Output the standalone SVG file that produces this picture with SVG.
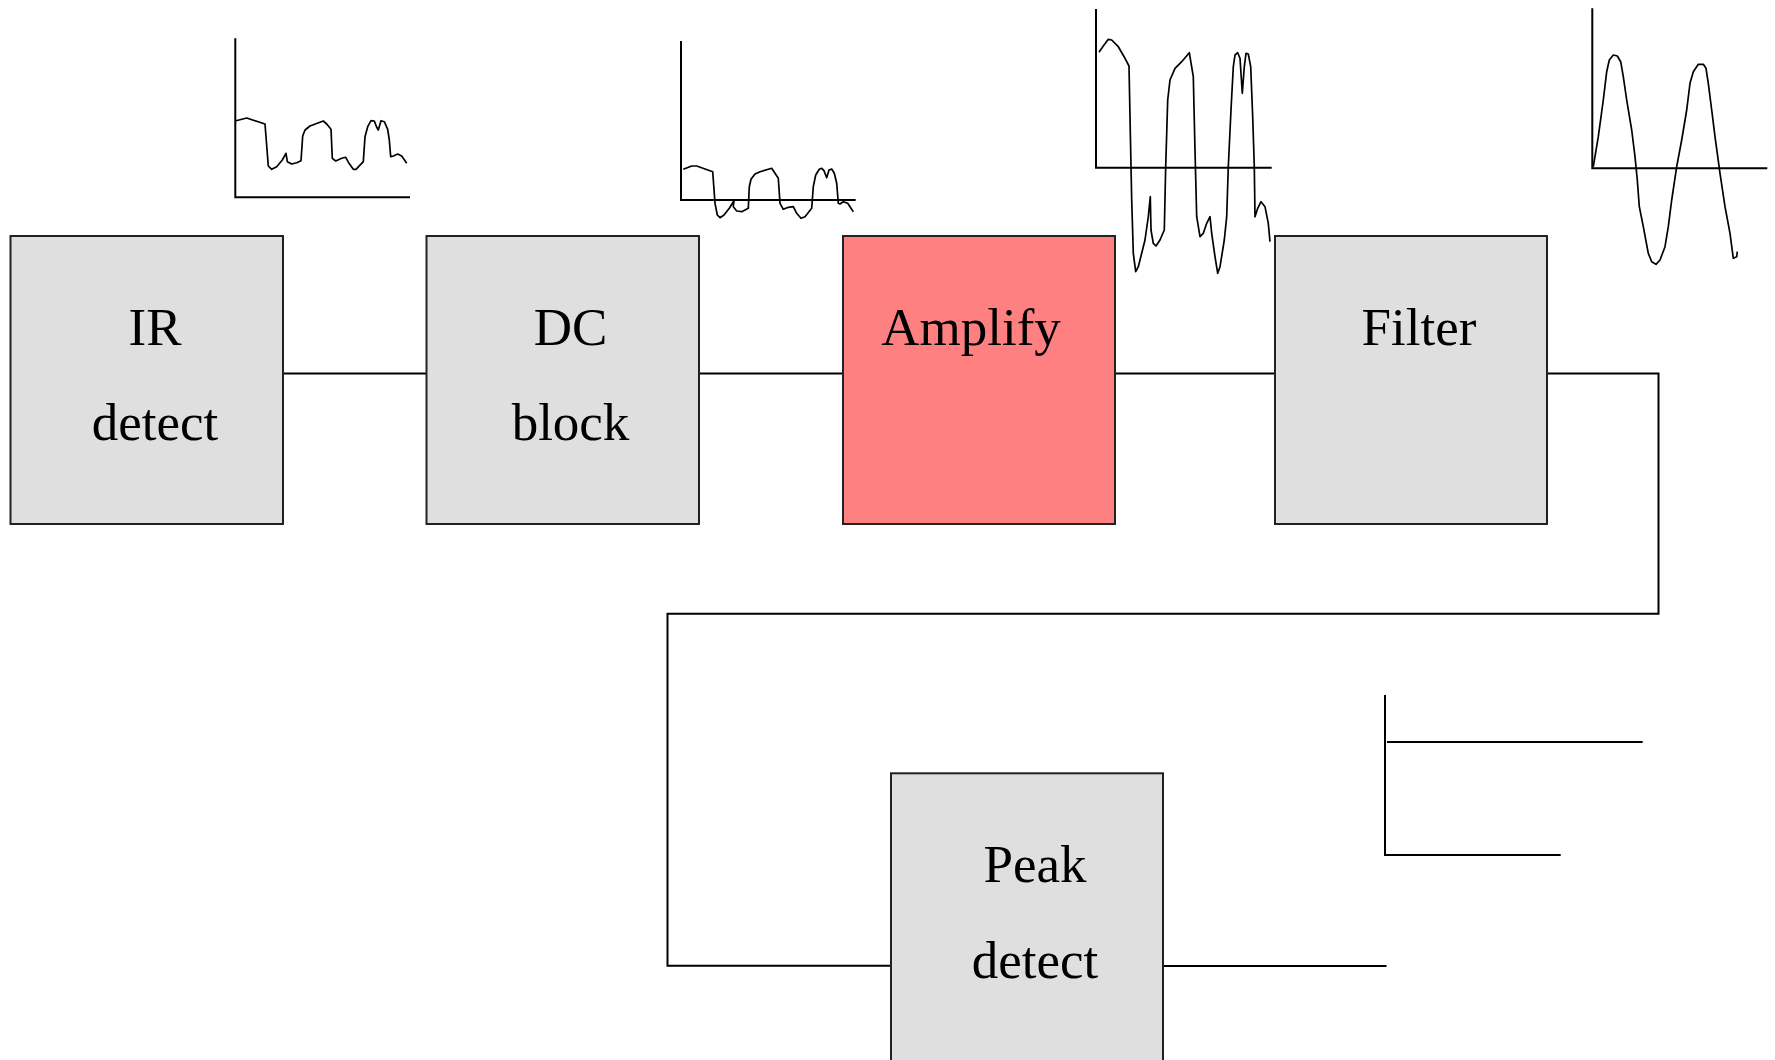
<svg xmlns="http://www.w3.org/2000/svg" width="1775" height="1060" viewBox="0 0 1775 1060">
<style>
.box{fill:#dfdfdf;stroke:#222;stroke-width:2}
.hot{fill:#ff8080;stroke:#222;stroke-width:2}
.lbl{font-family:"Liberation Serif","Times New Roman",serif;font-size:53px;fill:#000;text-anchor:middle}
.wire{fill:none;stroke:#000;stroke-width:2}
.axis{fill:none;stroke:#000;stroke-width:2}
.wave{fill:none;stroke:#000;stroke-width:1.7;stroke-linejoin:round}
</style>
<rect width="1775" height="1060" fill="#fff"/>
<g id="connectors">
<path class="wire" d="M283,373.5 H426.5"/>
<path class="wire" d="M699,373.5 H843"/>
<path class="wire" d="M1115,373.5 H1275"/>
<path class="wire" d="M1547,373.5 H1658.5 V613.7 H667.5 V965.7 H891"/>
<path class="wire" d="M1163,966 H1386.5"/>
</g>
<g id="ir-detect">
<rect class="box" x="10.5" y="236" width="272.5" height="288"/>
<text class="lbl" x="155" y="345">IR</text>
<text class="lbl" x="155" y="440">detect</text>
</g>
<g id="dc-block">
<rect class="box" x="426.5" y="236" width="272.5" height="288"/>
<text class="lbl" x="570.5" y="345">DC</text>
<text class="lbl" x="570.5" y="440">block</text>
</g>
<g id="amplify">
<rect class="hot" x="843" y="236" width="272" height="288"/>
<text class="lbl" x="971" y="345">Amplify</text>
</g>
<g id="filter">
<rect class="box" x="1275" y="236" width="272" height="288"/>
<text class="lbl" x="1419" y="345">Filter</text>
</g>
<g id="peak-detect">
<rect class="box" x="891" y="773.3" width="272" height="300"/>
<text class="lbl" x="1035" y="882">Peak</text>
<text class="lbl" x="1035" y="978">detect</text>
</g>
<g id="plot-ir">
<path class="axis" d="M235.3,38.3 V197.3 H410"/>
<path class="wave" d="M236,120.7 L246.7,118 L265,124 L268.3,166 L271.7,169.3 L276.7,166.7 L282.3,160 L286,153.3 L287.3,161.7 L291.7,164 L296.7,162.7 L301,160.7 L302.7,136 L305,130 L310,126 L323.3,121 L326.7,124 L331,129.3 L332.3,158.3 L335.7,161 L341.7,158.3 L345.7,157.3 L349,163.3 L353.3,169.3 L356,169.3 L363.3,161.7 L365,136.7 L367.7,126.7 L371,120.7 L374.3,121 L376.7,127.3 L378.3,130 L381,120.7 L384.3,121.7 L387.7,129.3 L389.3,140 L390.7,156.7 L393.3,156 L397.7,154 L401.7,156 L406.7,163.3"/>
</g>
<g id="plot-dc">
<path class="axis" d="M681,41 V200 H855.7"/>
<path class="wave" d="M683.3,169.3 L691.7,166 L696.7,166 L712.7,171.7 L715,203.3 L717.3,215 L720,217.7 L724,215 L729.3,208.3 L732.7,202.7 L734,200.7 L733.3,206.7 L736.7,211 L741.7,211.7 L748.3,208.3 L749.3,186.7 L751,179.3 L755,174 L760,171.7 L771.7,168.3 L775,173.3 L778.3,178.3 L780,203.3 L783.3,209.3 L788.3,207.3 L793.3,206.7 L796.7,213.3 L801,218.3 L805,216.7 L811.7,208.3 L813.3,186.7 L815.7,175 L819.3,169.3 L821.7,168.3 L824,170.7 L826.7,177.7 L829,170 L831.7,169 L834.3,173.3 L836.7,183.3 L838.3,203.3 L840,204 L843.3,201.7 L847.7,203.3 L850,206.7 L853.3,211.7"/>
</g>
<g id="plot-amp">
<path class="axis" d="M1096,9 V167.7 H1271.7"/>
<path class="wave" d="M1099,52.3 L1103.3,46 L1108.3,39.3 L1111.7,40 L1118.3,46.7 L1125,58.3 L1129,66 L1130,116.7 L1131.7,200 L1133.3,253.3 L1135.7,271.7 L1138.3,266.7 L1141.7,253.3 L1145,240 L1148.3,216.7 L1150.3,196.7 L1151,230 L1153.3,243.3 L1156,246 L1160,240 L1164.3,230 L1165.7,166.7 L1167.7,100 L1170,80 L1175,68.3 L1181.7,61.7 L1189.3,52.7 L1193.3,76.7 L1195,150 L1196.7,216.7 L1200,236.7 L1203.3,233.3 L1206.7,223.3 L1210,216.7 L1211.7,233.3 L1215,256.7 L1217.7,273.3 L1220,266.7 L1224.3,240 L1226.7,216.7 L1228.3,166.7 L1231,110 L1233.3,66.7 L1235,55 L1237.7,52.7 L1240,58.3 L1242.3,93.3 L1244.3,66.7 L1246,53.3 L1248.3,54 L1250.7,66.7 L1252.7,116.7 L1254.3,166.7 L1255,216.7 L1257.7,208.3 L1261,201.7 L1265,206.7 L1268.3,223.3 L1270,241.7"/>
</g>
<g id="plot-filter">
<path class="axis" d="M1592.3,8.3 V168.3 H1767.3"/>
<path class="wave" d="M1593.3,166.7 L1598.3,136.7 L1603.3,100 L1606.7,71.7 L1609.3,60 L1613.3,55 L1617.3,56 L1620.7,61.7 L1623.3,76.7 L1626.7,100 L1631.7,130 L1635,156.7 L1637.3,180 L1639.3,206.7 L1643.3,226.7 L1648.3,253.3 L1651.7,261.7 L1656,264.3 L1660,260 L1665,246.7 L1668.3,226.7 L1671.7,200 L1676.7,166.7 L1681.7,140 L1686.7,110 L1690,83.3 L1693.3,71.7 L1698.3,64.3 L1703.3,64.3 L1706,68.3 L1708.3,83.3 L1711.7,110 L1715,136.7 L1720,173.3 L1725,206.7 L1730,233.3 L1733.3,258.3 L1736.7,256.7 L1737.3,251.7"/>
</g>
<g id="plot-peak">
<path class="axis" d="M1385,695 V855 H1560.7"/>
<path class="axis" d="M1387,742 H1642.7"/>
</g>
</svg>
